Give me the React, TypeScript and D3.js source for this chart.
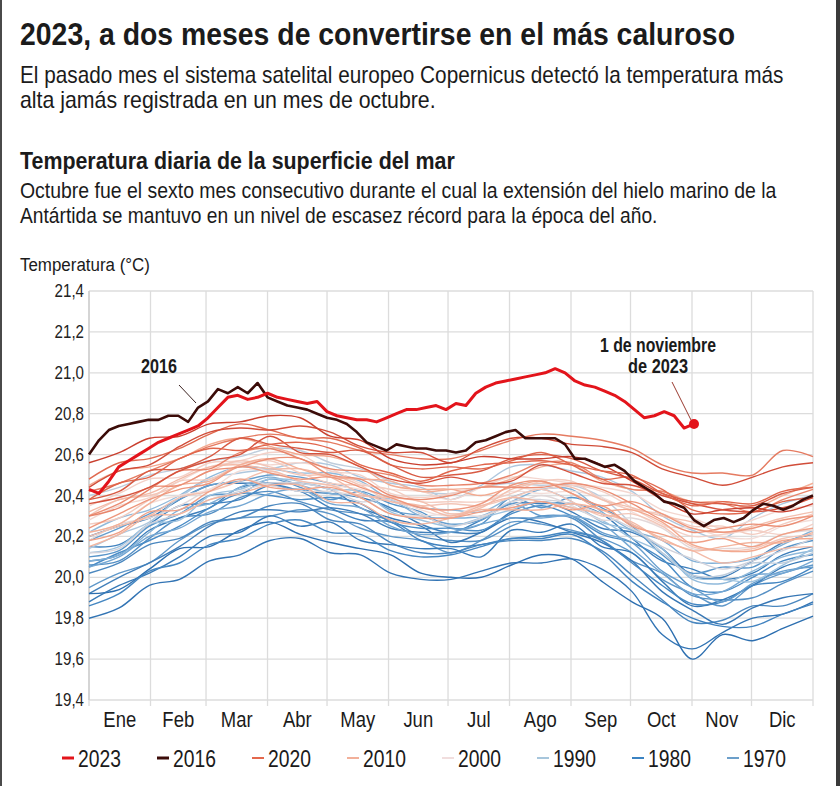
import React from "react";
import * as d3 from "d3";

const W = 840;
const H = 786;

const monthLabels = ["Ene", "Feb", "Mar", "Abr", "May", "Jun", "Jul", "Ago", "Sep", "Oct", "Nov", "Dic"];
const monthStartDays = [0, 31, 59, 90, 120, 151, 181, 212, 243, 273, 304, 334, 365];
const yTicks = [19.4, 19.6, 19.8, 20.0, 20.2, 20.4, 20.6, 20.8, 21.0, 21.2, 21.4];

// Day spacing of the samples
const STEP_BG = 365 / 24;
const STEP_HI = 5;

// Highlighted years (every 5 days)
const sst2023 = [
  20.43, 20.41, 20.47, 20.54, 20.57, 20.6, 20.63, 20.66, 20.68, 20.7,
  20.72, 20.74, 20.78, 20.83, 20.88, 20.89, 20.87, 20.88, 20.9, 20.88,
  20.87, 20.86, 20.85, 20.86, 20.81, 20.79, 20.78, 20.77, 20.77, 20.76,
  20.78, 20.8, 20.82, 20.82, 20.83, 20.84, 20.82, 20.85, 20.84, 20.9,
  20.93, 20.95, 20.96, 20.97, 20.98, 20.99, 21.0, 21.02, 21.0, 20.96,
  20.94, 20.93, 20.91, 20.89, 20.86, 20.82, 20.78, 20.79, 20.81, 20.79,
  20.73, 20.75,
];
const sst2016 = [
  20.6, 20.67, 20.72, 20.74, 20.75, 20.76, 20.77, 20.77, 20.79, 20.79,
  20.76, 20.83, 20.86, 20.92, 20.9, 20.93, 20.9, 20.95, 20.88, 20.86,
  20.84, 20.83, 20.82, 20.8, 20.78, 20.77, 20.75, 20.71, 20.66, 20.64,
  20.62, 20.65, 20.64, 20.63, 20.63, 20.62, 20.62, 20.61, 20.62, 20.66,
  20.67, 20.69, 20.71, 20.72, 20.68, 20.68, 20.68, 20.68, 20.65, 20.58,
  20.58, 20.56, 20.54, 20.55, 20.52, 20.47, 20.44, 20.41, 20.37, 20.36,
  20.34, 20.28, 20.25, 20.28, 20.29, 20.27, 20.29, 20.33, 20.36, 20.35,
  20.33, 20.35, 20.38, 20.4,
];

// Other years (25 samples across the year)
const sst1979 = [19.95, 20.02, 20.07, 20.18, 20.26, 20.29, 20.3, 20.33, 20.31, 20.24, 20.2, 20.18, 20.12, 20.18, 20.27, 20.26, 20.23, 20.19, 20.12, 19.99, 19.92, 19.86, 19.96, 20.02, 20.06];
const sst1980 = [20.06, 20.08, 20.19, 20.29, 20.31, 20.39, 20.42, 20.37, 20.33, 20.31, 20.28, 20.2, 20.18, 20.18, 20.25, 20.3, 20.29, 20.18, 20.08, 20.02, 19.91, 19.89, 19.9, 19.97, 20.03];
const sst1981 = [20.02, 20.07, 20.16, 20.19, 20.27, 20.29, 20.35, 20.36, 20.28, 20.26, 20.17, 20.12, 20.12, 20.16, 20.18, 20.18, 20.19, 20.13, 20.01, 19.89, 19.78, 19.79, 19.86, 19.86, 19.92];
const sst1982 = [19.92, 20.0, 20.07, 20.15, 20.25, 20.32, 20.33, 20.32, 20.34, 20.31, 20.24, 20.22, 20.22, 20.22, 20.32, 20.37, 20.32, 20.24, 20.22, 20.14, 20.01, 20.0, 20.08, 20.17, 20.21];
const sst1983 = [20.2, 20.25, 20.29, 20.38, 20.45, 20.46, 20.46, 20.46, 20.43, 20.34, 20.29, 20.25, 20.17, 20.22, 20.29, 20.27, 20.22, 20.17, 20.08, 19.93, 19.84, 19.77, 19.85, 19.9, 19.92];
const sst1984 = [19.92, 19.94, 20.04, 20.14, 20.15, 20.23, 20.27, 20.21, 20.17, 20.14, 20.11, 20.02, 20.0, 20.0, 20.06, 20.11, 20.09, 19.98, 19.88, 19.8, 19.6, 19.72, 19.69, 19.75, 19.81];
const sst1985 = [19.8, 19.85, 19.96, 19.99, 20.08, 20.11, 20.18, 20.19, 20.12, 20.11, 20.02, 19.99, 19.99, 20.03, 20.07, 20.07, 20.09, 20.04, 19.93, 19.72, 19.65, 19.73, 19.8, 19.82, 19.88];
const sst1986 = [19.88, 19.96, 20.02, 20.1, 20.2, 20.22, 20.3, 20.25, 20.27, 20.18, 20.16, 20.14, 20.14, 20.1, 20.23, 20.22, 20.26, 20.15, 20.12, 19.98, 19.86, 19.89, 19.96, 20.05, 20.09];
const sst1987 = [20.08, 20.11, 20.23, 20.29, 20.34, 20.44, 20.45, 20.42, 20.41, 20.39, 20.34, 20.26, 20.22, 20.28, 20.36, 20.36, 20.36, 20.31, 20.19, 20.08, 20.04, 19.99, 20.02, 20.11, 20.15];
const sst1988 = [20.15, 20.16, 20.26, 20.35, 20.36, 20.38, 20.45, 20.42, 20.34, 20.28, 20.27, 20.18, 20.15, 20.16, 20.19, 20.19, 20.21, 20.12, 19.98, 19.88, 19.8, 19.76, 19.76, 19.82, 19.87];
const sst1989 = [19.86, 19.92, 20.03, 20.07, 20.16, 20.19, 20.26, 20.28, 20.22, 20.21, 20.13, 20.1, 20.11, 20.15, 20.19, 20.2, 20.22, 20.18, 20.07, 19.96, 19.87, 19.88, 19.96, 19.98, 20.05];
const sst1990 = [20.05, 20.12, 20.18, 20.25, 20.34, 20.41, 20.4, 20.38, 20.39, 20.36, 20.27, 20.24, 20.24, 20.23, 20.31, 20.35, 20.3, 20.21, 20.17, 20.09, 19.95, 19.93, 20.0, 20.08, 20.11];
const sst1991 = [20.1, 20.13, 20.25, 20.31, 20.4, 20.41, 20.48, 20.44, 20.38, 20.42, 20.36, 20.32, 20.24, 20.26, 20.39, 20.34, 20.39, 20.34, 20.25, 20.11, 20.02, 20.05, 20.05, 20.14, 20.18];
const sst1992 = [20.18, 20.24, 20.31, 20.38, 20.45, 20.47, 20.5, 20.49, 20.46, 20.42, 20.33, 20.3, 20.26, 20.28, 20.36, 20.3, 20.3, 20.22, 20.17, 20.03, 19.95, 19.88, 19.97, 20.03, 20.05];
const sst1993 = [20.05, 20.1, 20.2, 20.24, 20.32, 20.35, 20.41, 20.43, 20.36, 20.34, 20.25, 20.21, 20.22, 20.26, 20.29, 20.29, 20.3, 20.26, 20.14, 20.02, 19.92, 19.93, 20.01, 20.02, 20.08];
const sst1994 = [20.08, 20.11, 20.22, 20.33, 20.36, 20.44, 20.49, 20.45, 20.41, 20.4, 20.38, 20.3, 20.29, 20.3, 20.37, 20.43, 20.43, 20.32, 20.23, 20.18, 20.08, 20.07, 20.09, 20.16, 20.23];
const sst1995 = [20.22, 20.29, 20.33, 20.4, 20.49, 20.54, 20.53, 20.51, 20.51, 20.47, 20.38, 20.34, 20.33, 20.32, 20.39, 20.43, 20.37, 20.27, 20.23, 20.14, 19.99, 19.97, 20.03, 20.1, 20.13];
const sst1996 = [20.12, 20.15, 20.26, 20.28, 20.4, 20.43, 20.48, 20.47, 20.43, 20.42, 20.32, 20.28, 20.25, 20.29, 20.33, 20.37, 20.34, 20.28, 20.19, 20.12, 20.0, 19.99, 19.98, 20.06, 20.14];
const sst1997 = [20.14, 20.21, 20.27, 20.39, 20.48, 20.51, 20.53, 20.56, 20.55, 20.49, 20.46, 20.44, 20.38, 20.45, 20.54, 20.55, 20.52, 20.49, 20.42, 20.3, 20.23, 20.19, 20.29, 20.36, 20.4];
const sst1998 = [20.4, 20.44, 20.5, 20.53, 20.57, 20.59, 20.63, 20.62, 20.56, 20.53, 20.47, 20.42, 20.41, 20.44, 20.46, 20.45, 20.45, 20.39, 20.26, 20.12, 20.01, 20.01, 20.07, 20.07, 20.12];
const sst1999 = [20.12, 20.14, 20.26, 20.31, 20.38, 20.42, 20.46, 20.46, 20.43, 20.37, 20.38, 20.31, 20.25, 20.29, 20.37, 20.38, 20.36, 20.31, 20.24, 20.15, 20.09, 20.04, 20.08, 20.13, 20.19];
const sst2000 = [20.18, 20.26, 20.29, 20.35, 20.43, 20.48, 20.45, 20.42, 20.42, 20.39, 20.31, 20.3, 20.31, 20.3, 20.35, 20.4, 20.35, 20.28, 20.29, 20.24, 20.14, 20.14, 20.15, 20.21, 20.23];
const sst2001 = [20.22, 20.26, 20.36, 20.4, 20.43, 20.52, 20.52, 20.47, 20.45, 20.43, 20.39, 20.33, 20.3, 20.36, 20.42, 20.41, 20.42, 20.39, 20.32, 20.25, 20.24, 20.2, 20.19, 20.25, 20.28];
const sst2002 = [20.28, 20.35, 20.39, 20.47, 20.54, 20.56, 20.55, 20.56, 20.53, 20.46, 20.43, 20.42, 20.38, 20.44, 20.49, 20.48, 20.46, 20.44, 20.41, 20.33, 20.29, 20.24, 20.28, 20.33, 20.35];
const sst2003 = [20.35, 20.41, 20.48, 20.49, 20.56, 20.57, 20.61, 20.6, 20.52, 20.5, 20.41, 20.39, 20.41, 20.44, 20.44, 20.43, 20.45, 20.42, 20.34, 20.26, 20.2, 20.21, 20.23, 20.21, 20.26];
const sst2004 = [20.26, 20.29, 20.38, 20.47, 20.48, 20.55, 20.57, 20.51, 20.46, 20.45, 20.43, 20.37, 20.37, 20.37, 20.41, 20.47, 20.47, 20.38, 20.33, 20.31, 20.25, 20.25, 20.21, 20.26, 20.31];
const sst2005 = [20.3, 20.38, 20.4, 20.45, 20.52, 20.57, 20.54, 20.5, 20.5, 20.45, 20.37, 20.35, 20.36, 20.35, 20.39, 20.43, 20.37, 20.3, 20.31, 20.25, 20.15, 20.13, 20.14, 20.19, 20.21];
const sst2006 = [20.2, 20.25, 20.3, 20.39, 20.42, 20.47, 20.52, 20.47, 20.45, 20.4, 20.39, 20.37, 20.31, 20.34, 20.43, 20.46, 20.44, 20.38, 20.34, 20.3, 20.27, 20.22, 20.25, 20.29, 20.32];
const sst2007 = [20.32, 20.38, 20.41, 20.48, 20.54, 20.55, 20.53, 20.53, 20.49, 20.41, 20.37, 20.35, 20.3, 20.35, 20.39, 20.37, 20.34, 20.31, 20.27, 20.18, 20.13, 20.07, 20.1, 20.14, 20.15];
const sst2008 = [20.15, 20.21, 20.3, 20.31, 20.38, 20.41, 20.45, 20.45, 20.37, 20.36, 20.28, 20.26, 20.29, 20.33, 20.33, 20.33, 20.36, 20.33, 20.26, 20.19, 20.13, 20.15, 20.17, 20.17, 20.22];
const sst2009 = [20.22, 20.26, 20.36, 20.45, 20.47, 20.55, 20.58, 20.53, 20.49, 20.48, 20.47, 20.42, 20.43, 20.44, 20.48, 20.54, 20.55, 20.47, 20.43, 20.42, 20.37, 20.37, 20.34, 20.4, 20.46];
const sst2010 = [20.45, 20.52, 20.54, 20.58, 20.65, 20.68, 20.64, 20.6, 20.59, 20.54, 20.45, 20.43, 20.43, 20.4, 20.44, 20.47, 20.41, 20.33, 20.33, 20.27, 20.16, 20.13, 20.13, 20.18, 20.19];
const sst2011 = [20.18, 20.22, 20.32, 20.33, 20.42, 20.48, 20.44, 20.43, 20.44, 20.39, 20.31, 20.29, 20.29, 20.32, 20.34, 20.37, 20.33, 20.35, 20.25, 20.21, 20.17, 20.19, 20.15, 20.21, 20.24];
const sst2012 = [20.24, 20.31, 20.38, 20.43, 20.46, 20.54, 20.51, 20.48, 20.49, 20.44, 20.39, 20.34, 20.33, 20.36, 20.45, 20.47, 20.41, 20.35, 20.37, 20.31, 20.24, 20.22, 20.24, 20.28, 20.3];
const sst2013 = [20.3, 20.36, 20.44, 20.45, 20.52, 20.54, 20.58, 20.58, 20.5, 20.48, 20.4, 20.38, 20.4, 20.44, 20.44, 20.44, 20.46, 20.43, 20.36, 20.28, 20.22, 20.24, 20.26, 20.25, 20.3];
const sst2014 = [20.3, 20.34, 20.43, 20.52, 20.53, 20.61, 20.63, 20.58, 20.53, 20.52, 20.5, 20.45, 20.45, 20.46, 20.5, 20.56, 20.56, 20.48, 20.43, 20.42, 20.36, 20.36, 20.32, 20.38, 20.43];
const sst2015 = [20.42, 20.46, 20.52, 20.58, 20.64, 20.68, 20.7, 20.68, 20.66, 20.62, 20.6, 20.58, 20.58, 20.62, 20.67, 20.7, 20.69, 20.67, 20.63, 20.55, 20.51, 20.51, 20.5, 20.62, 20.59];
const sst2017 = [20.48, 20.56, 20.58, 20.63, 20.7, 20.75, 20.72, 20.68, 20.68, 20.63, 20.55, 20.53, 20.54, 20.53, 20.57, 20.61, 20.55, 20.48, 20.49, 20.43, 20.33, 20.31, 20.32, 20.37, 20.39];
const sst2018 = [20.38, 20.42, 20.52, 20.53, 20.59, 20.68, 20.65, 20.63, 20.61, 20.62, 20.55, 20.49, 20.5, 20.52, 20.58, 20.6, 20.58, 20.52, 20.48, 20.41, 20.37, 20.36, 20.35, 20.41, 20.44];
const sst2019 = [20.44, 20.52, 20.55, 20.64, 20.71, 20.73, 20.72, 20.74, 20.71, 20.64, 20.61, 20.61, 20.56, 20.63, 20.68, 20.68, 20.65, 20.64, 20.61, 20.53, 20.49, 20.45, 20.49, 20.54, 20.56];
const sst2020 = [20.56, 20.61, 20.68, 20.69, 20.75, 20.76, 20.79, 20.78, 20.69, 20.67, 20.58, 20.55, 20.56, 20.59, 20.58, 20.58, 20.59, 20.55, 20.47, 20.38, 20.31, 20.33, 20.34, 20.32, 20.36];
const sst2021 = [20.36, 20.39, 20.44, 20.52, 20.57, 20.6, 20.69, 20.61, 20.6, 20.54, 20.48, 20.46, 20.49, 20.46, 20.47, 20.55, 20.51, 20.46, 20.45, 20.4, 20.36, 20.33, 20.32, 20.34, 20.39];
const sst2022 = [20.38, 20.46, 20.49, 20.58, 20.63, 20.62, 20.65, 20.66, 20.63, 20.55, 20.51, 20.47, 20.52, 20.55, 20.56, 20.57, 20.55, 20.52, 20.5, 20.41, 20.35, 20.37, 20.36, 20.42, 20.44];

const otherYears = [
  1979, 1980, 1981, 1982, 1983, 1984, 1985, 1986, 1987, 1988, 1989,
  1990, 1991, 1992, 1993, 1994, 1995, 1996, 1997, 1998, 1999,
  2000, 2001, 2002, 2003, 2004, 2005, 2006, 2007, 2008, 2009,
  2010, 2011, 2012, 2013, 2014, 2015, 2017, 2018, 2019, 2020, 2021, 2022,
];
const otherSeries = [
  sst1979, sst1980, sst1981, sst1982, sst1983, sst1984, sst1985, sst1986, sst1987, sst1988, sst1989,
  sst1990, sst1991, sst1992, sst1993, sst1994, sst1995, sst1996, sst1997, sst1998, sst1999,
  sst2000, sst2001, sst2002, sst2003, sst2004, sst2005, sst2006, sst2007, sst2008, sst2009,
  sst2010, sst2011, sst2012, sst2013, sst2014, sst2015, sst2017, sst2018, sst2019, sst2020, sst2021, sst2022,
];

const legendLabels = ["2023", "2016", "2020", "2010", "2000", "1990", "1980", "1970"];
const legendColors = ["#e3141b", "#3b0b08", "#e4684d", "#f2b09a", "#f1dede", "#a7c6dc", "#3b83c2", "#6c9fca"];

const C2023 = "#e3141b";
const C2016 = "#3b0b08";
const FONT = "'Liberation Sans', Arial, sans-serif";
const TXT = "#1b1b1b";
const NARROW = 0.84;

let measureCtx: CanvasRenderingContext2D | null = null;
function naturalWidth(str: string, size: number, bold: boolean): number {
  if (!measureCtx && typeof document !== "undefined") {
    measureCtx = document.createElement("canvas").getContext("2d");
  }
  if (!measureCtx) return str.length * size * 0.5;
  measureCtx.font = `${bold ? "bold " : ""}${size}px 'Liberation Sans', Arial, sans-serif`;
  return measureCtx.measureText(str).width;
}

type FitProps = {
  x: number;
  y: number;
  text: string;
  size: number;
  width: number;
  bold?: boolean;
  anchor?: "start" | "middle" | "end";
  fill?: string;
};

function FitText({ x, y, text, size, width, bold = false, anchor = "start", fill = TXT }: FitProps) {
  const s = width / naturalWidth(text, size, bold);
  return (
    <text
      transform={`translate(${x},${y}) scale(${s.toFixed(4)},1)`}
      fontSize={size}
      fontWeight={bold ? "bold" : "normal"}
      textAnchor={anchor}
      fill={fill}
    >
      {text}
    </text>
  );
}

function NarrowText({ x, y, text, size, anchor = "start", fill = TXT }: Omit<FitProps, "width">) {
  return (
    <text transform={`translate(${x},${y}) scale(${NARROW},1)`} fontSize={size} textAnchor={anchor} fill={fill}>
      {text}
    </text>
  );
}

export default function App() {
  const x = d3.scaleLinear().domain([0, 365]).range([89, 813]);
  const y = d3.scaleLinear().domain([19.4, 21.4]).range([700, 291]);

  const color = d3
    .scaleLinear<string>()
    .domain([1979, 1984, 1990, 1996, 2001, 2010, 2017, 2020, 2022])
    .range(["#5e97c9", "#2d6fb0", "#4a8cc6", "#9dc2df", "#f3ddd8", "#f3a98f", "#e0694f", "#c93f2e", "#e0654b"])
    .interpolate(d3.interpolateRgb);

  const bgLine = d3
    .line<number>()
    .x((_, i) => x(i * STEP_BG))
    .y((d) => y(d))
    .curve(d3.curveCatmullRom.alpha(0.5));
  const hiLine = d3
    .line<number>()
    .x((_, i) => x(i * STEP_HI))
    .y((d) => y(d));

  const last2023 = sst2023.length - 1;
  const dotX = x(last2023 * STEP_HI);
  const dotY = y(sst2023[last2023]);

  const [x0, x1] = x.range();
  const [yb, yt] = y.range();

  return (
    <svg
      width={W}
      height={H}
      viewBox={`0 0 ${W} ${H}`}
      style={{ position: "absolute", left: 0, top: 0, background: "#fff", fontFamily: FONT }}
    >
      <rect x={0} y={0} width={W} height={H} fill="#fff" />
      <rect x={0} y={0} width={2} height={H} fill="#4a4a4a" />
      <rect x={836} y={0} width={4} height={H} fill="#3a3a3a" />

      {/* Titles */}
      <FitText x={20} y={45} size={32} bold width={715} text="2023, a dos meses de convertirse en el más caluroso" />
      <FitText x={20} y={83} size={23} width={764} text="El pasado mes el sistema satelital europeo Copernicus detectó la temperatura más" />
      <FitText x={20} y={108} size={23} width={416} text="alta jamás registrada en un mes de octubre." />
      <FitText x={20} y={169} size={23} bold width={435} text="Temperatura diaria de la superficie del mar" />
      <FitText x={20} y={198} size={22} width={757} text="Octubre fue el sexto mes consecutivo durante el cual la extensión del hielo marino de la" />
      <FitText x={20} y={223} size={22} width={638} text="Antártida se mantuvo en un nivel de escasez récord para la época del año." />
      <FitText x={20} y={271} size={19} width={130} text="Temperatura (°C)" />

      {/* Grid */}
      {yTicks.map((t) => (
        <line key={"h" + t} x1={x0} x2={x1} y1={y(t)} y2={y(t)} stroke="#dcdcdc" strokeWidth={1.3} />
      ))}
      {monthStartDays.map((d) => (
        <line key={"v" + d} x1={x(d)} x2={x(d)} y1={yt} y2={yb + 6} stroke="#dcdcdc" strokeWidth={1.3} />
      ))}
      <line x1={x0} x2={x0} y1={yt} y2={yb} stroke="#cfcfcf" strokeWidth={1.5} />

      {/* Y tick labels */}
      {yTicks.map((t) => (
        <NarrowText key={"yl" + t} x={84} y={y(t) + 6} size={18} anchor="end" fill="#222" text={t.toFixed(1).replace(".", ",")} />
      ))}

      {/* Month labels */}
      {monthLabels.map((m, i) => (
        <NarrowText
          key={m}
          x={x((monthStartDays[i] + monthStartDays[i + 1]) / 2)}
          y={727}
          size={22}
          anchor="middle"
          text={m}
        />
      ))}

      {/* Background years */}
      <g fill="none">
        {otherSeries.map((s, k) => (
          <path
            key={otherYears[k]}
            d={bgLine(s) || ""}
            stroke={color(otherYears[k])}
            strokeWidth={1.4}
            strokeLinejoin="round"
          />
        ))}
      </g>

      {/* Highlighted years */}
      <path d={hiLine(sst2016) || ""} fill="none" stroke={C2016} strokeWidth={2.6} strokeLinejoin="round" />
      <path d={hiLine(sst2023) || ""} fill="none" stroke={C2023} strokeWidth={3} strokeLinejoin="round" />
      <circle cx={dotX} cy={dotY} r={5} fill={C2023} />

      {/* Annotations */}
      <FitText x={159} y={373} size={20} bold anchor="middle" width={36} text="2016" />
      <line x1={179} y1={385} x2={196} y2={403} stroke="#3b2220" strokeWidth={1} />
      <FitText x={658} y={352} size={20} bold anchor="middle" width={116} text="1 de noviembre" />
      <FitText x={658} y={373} size={20} bold anchor="middle" width={60} text="de 2023" />
      <line x1={672} y1={382} x2={691} y2={420} stroke="#9a3a30" strokeWidth={1} />

      {/* Legend */}
      {legendLabels.map((lab, i) => {
        const lx = 62 + i * 95;
        const thick = i < 2 ? 3 : 2;
        return (
          <g key={lab}>
            <line x1={lx} x2={lx + 12} y1={758} y2={758} stroke={legendColors[i]} strokeWidth={thick} />
            <NarrowText x={lx + 16} y={767} size={23} text={lab} />
          </g>
        );
      })}
    </svg>
  );
}
